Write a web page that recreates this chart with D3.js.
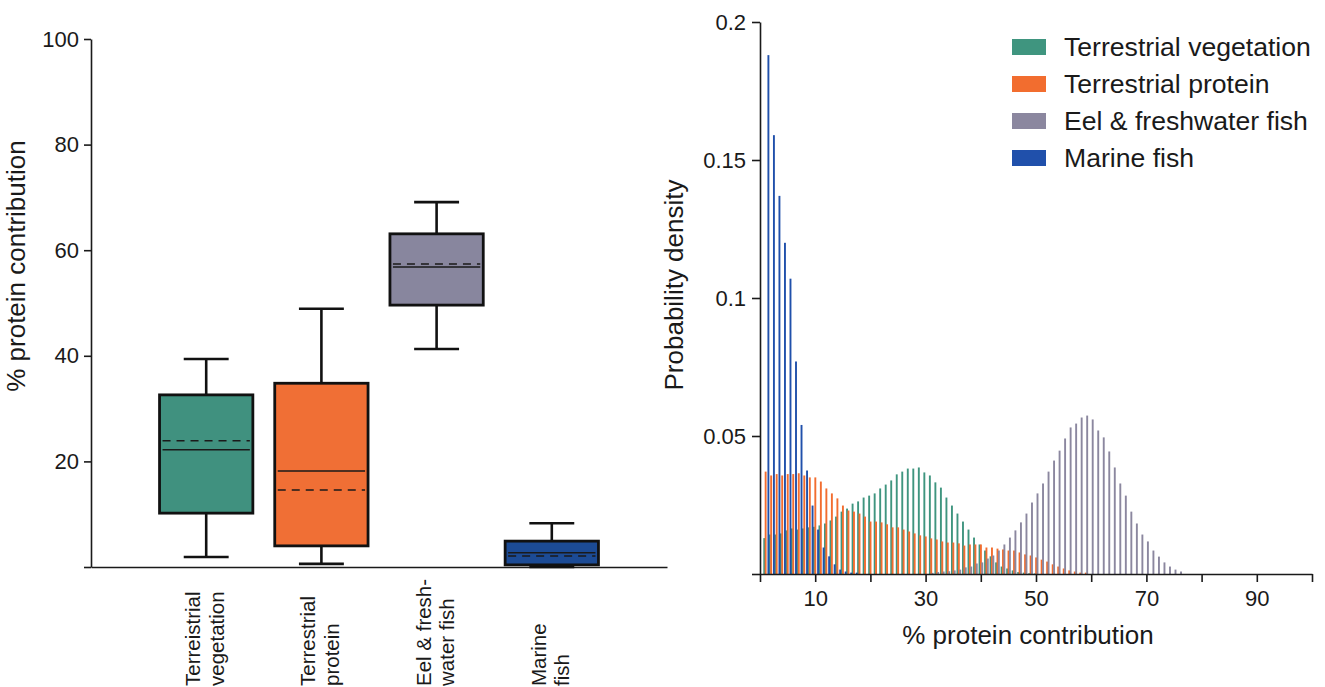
<!DOCTYPE html>
<html>
<head>
<meta charset="utf-8">
<script src="https://cdn.jsdelivr.net/npm/d3@7"></script>
<style>
  body { margin: 0; background: #ffffff; }
  svg text { font-family: "Liberation Sans", Arial, Helvetica, sans-serif; fill: #1a1a1a; }
</style>
</head>
<body>
<svg id="fig" width="1325" height="687"></svg>
<script>
// ---------- Box plot: % protein contribution per diet source ----------
const boxCategories = ["Terreistrial vegetation", "Terrestrial protein", "Eel & fresh-water fish", "Marine fish"];
const boxLabelLines = [["Terreistrial", "vegetation"], ["Terrestrial", "protein"], ["Eel & fresh-", "water fish"], ["Marine", "fish"]];
const whiskerLow  = [1.9, 0.6, 41.3, 0.0];
const quartile1   = [10.2, 4.0, 49.6, 0.4];
const medianValue = [22.2, 18.2, 56.8, 2.7];
const meanValue   = [23.9, 14.6, 57.4, 2.1];
const quartile3   = [32.6, 34.8, 63.1, 4.9];
const whiskerHigh = [39.4, 48.9, 69.1, 8.3];
const boxColors   = ["#40917f", "#f06f35", "#88869e", "#1c4b95"];
const boxTicks    = [0, 20, 40, 60, 80, 100];

// ---------- Histogram: probability density per 1 % bin ----------
const seriesNames  = ["Terrestrial vegetation", "Terrestrial protein", "Eel & freshwater fish", "Marine fish"];
const seriesColors = ["#3f957f", "#f26d2f", "#8b879f", "#2050ab"];
const seriesFirstBin = [1, 1, 31, 1];

const vegetationDensity = [
  0.0130, 0.0143, 0.0143, 0.0147, 0.0158, 0.0165, 0.0161, 0.0165, 0.0169, 0.0171,
  0.0176, 0.0183, 0.0194, 0.0208, 0.0226, 0.0237, 0.0255, 0.0263, 0.0277, 0.0284,
  0.0292, 0.0310, 0.0324, 0.0339, 0.0361, 0.0371, 0.0382, 0.0382, 0.0386, 0.0368,
  0.0357, 0.0332, 0.0313, 0.0277, 0.0248, 0.0219, 0.0190, 0.0161, 0.0132, 0.0107,
  0.0085, 0.0064, 0.0042, 0.0027, 0.0020, 0.0013, 0.0007, 0.0005, 0.0003, 0.0002
];
const proteinDensity = [
  0.0371, 0.0357, 0.0362, 0.0357, 0.0362, 0.0362, 0.0365, 0.0357, 0.0350, 0.0350,
  0.0335, 0.0310, 0.0292, 0.0274, 0.0248, 0.0230, 0.0226, 0.0219, 0.0208, 0.0190,
  0.0190, 0.0187, 0.0180, 0.0169, 0.0169, 0.0161, 0.0154, 0.0147, 0.0140, 0.0136,
  0.0129, 0.0125, 0.0118, 0.0114, 0.0114, 0.0111, 0.0103, 0.0107, 0.0107, 0.0107,
  0.0096, 0.0096, 0.0092, 0.0089, 0.0085, 0.0085, 0.0078, 0.0071, 0.0067, 0.0060,
  0.0052, 0.0045, 0.0035, 0.0027, 0.0020, 0.0013, 0.0009, 0.0005, 0.0005
];
const eelDensity = [
  0.0004, 0.0007, 0.0009, 0.0010, 0.0013, 0.0016, 0.0024, 0.0027, 0.0038, 0.0042,
  0.0056, 0.0067, 0.0085, 0.0107, 0.0132, 0.0158, 0.0187, 0.0219, 0.0259, 0.0292,
  0.0328, 0.0371, 0.0411, 0.0447, 0.0491, 0.0531, 0.0545, 0.0567, 0.0574, 0.0560,
  0.0520, 0.0495, 0.0444, 0.0386, 0.0328, 0.0284, 0.0226, 0.0183, 0.0143, 0.0118,
  0.0085, 0.0063, 0.0042, 0.0027, 0.0016, 0.0009
];
const marineDensity = [
  0.188, 0.159, 0.137, 0.120, 0.107, 0.077, 0.054, 0.0375, 0.0248, 0.0161,
  0.0096, 0.0064, 0.0035, 0.0016, 0.0009, 0.0005, 0.0005
];
const densityTicks = [0, 0.05, 0.1, 0.15, 0.2];
const percentTicks = [0, 10, 20, 30, 40, 50, 60, 70, 80, 90, 100];
const percentLabelled = [10, 30, 50, 70, 90];

const svg = d3.select("#fig");
const ink = "#1a1a1a";

// ================= Left panel: box plot =================
const yL = d3.scaleLinear().domain([0, 100]).range([567, 39]);
const xL = d3.scalePoint().domain(boxCategories).range([91, 667]).padding(1);
const step = xL.step();
const boxW = step * 0.81;
const capW = step * 0.39;

const leftAxis = svg.append("g")
  .attr("transform", `translate(${xL.range()[0]},0)`)
  .call(d3.axisLeft(yL).tickValues(boxTicks).tickSize(7).tickSizeOuter(0).tickPadding(5)
    .tickFormat(d => d === 0 ? "" : d));
leftAxis.selectAll("text").style("font-size", "22px");

const bottomAxis = svg.append("g")
  .attr("transform", `translate(0,${yL(0)})`)
  .call(d3.axisBottom(xL).tickSize(0).tickSizeOuter(0).tickFormat(""));

[leftAxis, bottomAxis].forEach(g => {
  g.select(".domain").attr("stroke", ink).attr("stroke-width", 1.6);
  g.selectAll(".tick line").attr("stroke", ink).attr("stroke-width", 1.6);
});

svg.append("text")
  .attr("transform", `translate(25,${yL(57)}) rotate(-90)`)
  .attr("text-anchor", "middle")
  .style("font-size", "26px")
  .text("% protein contribution");

// category labels, rotated, two lines each
boxCategories.forEach((c, i) => {
  const t = svg.append("text")
    .attr("transform", `translate(${xL(c)},686) rotate(-90)`)
    .attr("text-anchor", "start")
    .style("font-size", "20.5px");
  boxLabelLines[i].forEach((line, j) => {
    t.append("tspan").attr("x", 0).attr("y", j === 0 ? -6 : 17.5).text(line);
  });
});

const boxes = svg.append("g");
boxCategories.forEach((c, i) => {
  const cx = xL(c);
  const g = boxes.append("g");
  // whiskers
  g.append("line").attr("x1", cx).attr("x2", cx)
    .attr("y1", yL(quartile3[i])).attr("y2", yL(whiskerHigh[i]))
    .attr("stroke", "#111").attr("stroke-width", 2.6);
  g.append("line").attr("x1", cx).attr("x2", cx)
    .attr("y1", yL(quartile1[i])).attr("y2", yL(whiskerLow[i]))
    .attr("stroke", "#111").attr("stroke-width", 2.6);
  [whiskerHigh[i], whiskerLow[i]].forEach(v => {
    g.append("line").attr("x1", cx - capW / 2).attr("x2", cx + capW / 2)
      .attr("y1", yL(v)).attr("y2", yL(v))
      .attr("stroke", "#111").attr("stroke-width", 2.6);
  });
  // box
  g.append("rect")
    .attr("x", cx - boxW / 2).attr("y", yL(quartile3[i]))
    .attr("width", boxW).attr("height", yL(quartile1[i]) - yL(quartile3[i]))
    .attr("fill", boxColors[i]).attr("stroke", "#111").attr("stroke-width", 2.8);
  // median (solid) and mean (dashed)
  g.append("line").attr("x1", cx - boxW / 2 + 3).attr("x2", cx + boxW / 2 - 3)
    .attr("y1", yL(medianValue[i])).attr("y2", yL(medianValue[i]))
    .attr("stroke", "#1a1a1a").attr("stroke-width", 1.5);
  g.append("line").attr("x1", cx - boxW / 2 + 3).attr("x2", cx + boxW / 2 - 3)
    .attr("y1", yL(meanValue[i])).attr("y2", yL(meanValue[i]))
    .attr("stroke", "#1a1a1a").attr("stroke-width", 1.5)
    .attr("stroke-dasharray", "8,6");
});

// ================= Right panel: density histogram =================
const xR = d3.scaleLinear().domain([0, 100]).range([760, 1312]);
const yR = d3.scaleLinear().domain([0, 0.2]).range([574, 22]);

const seriesValues = [vegetationDensity, proteinDensity, eelDensity, marineDensity];
const binWidthPx = xR(1) - xR(0);
const slot = d3.scaleBand().domain(seriesNames).range([0, binWidthPx]).paddingInner(0).paddingOuter(0);
const barW = 1.9;

const bars = svg.append("g");
seriesNames.forEach((name, s) => {
  const rows = seriesValues[s].map((v, i) => ({ bin: seriesFirstBin[s] + i, value: v }));
  bars.append("g").selectAll("rect").data(rows).join("rect")
    .attr("x", d => xR(d.bin - 0.4) + slot(name))
    .attr("y", d => yR(d.value))
    .attr("width", barW)
    .attr("height", d => yR(0) - yR(d.value))
    .attr("fill", seriesColors[s]);
});

const rightY = svg.append("g")
  .attr("transform", `translate(${xR(0)},0)`)
  .call(d3.axisLeft(yR).tickValues(densityTicks).tickSize(8).tickSizeOuter(0).tickPadding(6)
    .tickFormat(d => d === 0 ? "" : String(+d.toFixed(2))));
rightY.selectAll("text").style("font-size", "22px");

const rightX = svg.append("g")
  .attr("transform", `translate(0,${yR(0)})`)
  .call(d3.axisBottom(xR).tickValues(percentTicks).tickSize(8).tickSizeOuter(0).tickPadding(8)
    .tickFormat(d => percentLabelled.includes(d) ? d : ""));
rightX.selectAll("text").style("font-size", "22px");

[rightY, rightX].forEach(g => {
  g.select(".domain").attr("stroke", ink).attr("stroke-width", 1.6);
  g.selectAll(".tick line").attr("stroke", ink).attr("stroke-width", 1.6);
});

svg.append("text")
  .attr("transform", `translate(683,${(yR(0) + yR(0.2)) / 2 - 13}) rotate(-90)`)
  .attr("text-anchor", "middle")
  .style("font-size", "26px")
  .text("Probability density");

svg.append("text")
  .attr("x", (xR(0) + xR(100)) / 2 - 8)
  .attr("y", 644)
  .attr("text-anchor", "middle")
  .style("font-size", "26px")
  .text("% protein contribution");

// legend
const legend = svg.append("g").attr("transform", "translate(1012,47)");
seriesNames.forEach((name, s) => {
  const row = legend.append("g").attr("transform", `translate(0,${s * 37})`);
  row.append("rect").attr("x", 0).attr("y", -8).attr("width", 34).attr("height", 16)
    .attr("fill", seriesColors[s]);
  row.append("text").attr("x", 52).attr("y", 9).style("font-size", "26.6px").text(name);
});
</script>
</body>
</html>
